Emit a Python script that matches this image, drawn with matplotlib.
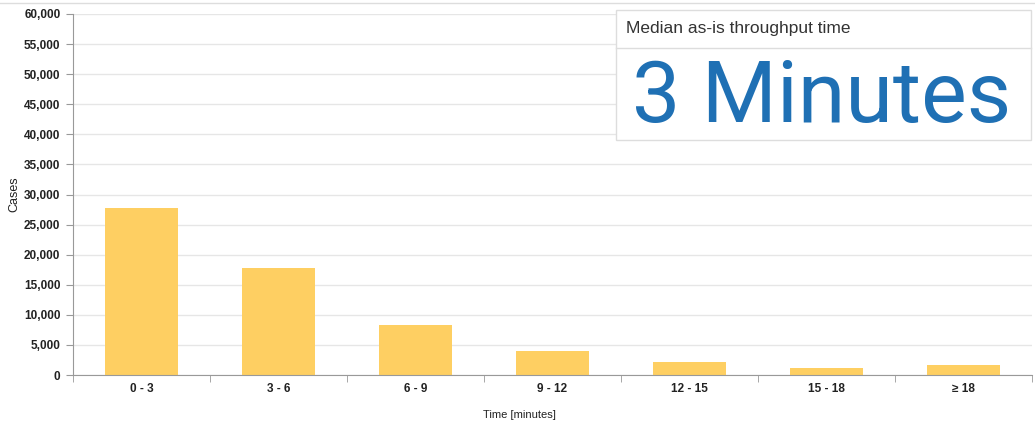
import numpy as np
import matplotlib.pyplot as plt
from matplotlib.patches import Rectangle
from matplotlib.lines import Line2D

categories = ["0 - 3", "3 - 6", "6 - 9", "9 - 12", "12 - 15", "15 - 18", "\u2265 18"]
cases = [27700, 17800, 8300, 4000, 2200, 1200, 1700]
yticks = list(range(0, 60001, 5000))
median_title = "Median as-is throughput time"
median_value = "3 Minutes"

plt.rcParams["font.family"] = ["Liberation Sans", "DejaVu Sans"]

W, H = 1035, 421
fig = plt.figure(figsize=(W / 100, H / 100), dpi=100)
ax = fig.add_axes([73 / W, 1 - 375 / H, (1032 - 73) / W, (375 - 14) / H])

x = np.arange(len(categories))
ax.bar(x, cases, width=0.53, color="#fecf62", zorder=2)

ax.set_xlim(-0.5, len(categories) - 0.5)
ax.set_ylim(0, 60000)
ax.set_yticks(yticks)
ax.set_yticklabels([f"{v:,}" for v in yticks], fontsize=8.5, fontweight="bold", color="#222222")
ax.set_xticks(x)
ax.set_xticklabels(categories, fontsize=8.5, fontweight="bold", color="#222222")
ax.set_xticks(np.arange(len(categories) + 1) - 0.5, minor=True)
ax.tick_params(axis="x", which="major", length=0, pad=6)
ax.tick_params(axis="x", which="minor", length=5, color="#999999")
ax.tick_params(axis="y", length=5, color="#999999", pad=4)

ax.grid(axis="y", color="#e6e6e6", linewidth=1, zorder=0)
for s in ["top", "right"]:
    ax.spines[s].set_visible(False)
for s in ["left", "bottom"]:
    ax.spines[s].set_color("#999999")

ax.set_ylabel("Cases", fontsize=9, color="#222222")
ax.yaxis.set_label_coords(-0.055, 0.5)
ax.set_xlabel("Time [minutes]", fontsize=8, color="#222222")
ax.xaxis.set_label_coords(0.466, -0.097)

# thin line at the very top
fig.add_artist(Line2D([0, 1], [1 - 3 / H, 1 - 3 / H], transform=fig.transFigure,
                      color="#dddddd", linewidth=1))

# overlay box with the median
bx0, bx1, by0, by1 = 616, 1031, 10, 140
fig.add_artist(Rectangle((bx0 / W, 1 - by1 / H), (bx1 - bx0) / W, (by1 - by0) / H,
                         transform=fig.transFigure, facecolor="white",
                         edgecolor="#dddddd", linewidth=1, zorder=5))
fig.add_artist(Line2D([bx0 / W, bx1 / W], [1 - 48 / H, 1 - 48 / H], transform=fig.transFigure,
                      color="#dddddd", linewidth=1, zorder=6))
fig.text(626 / W, 1 - 29 / H, median_title, fontsize=12.5, color="#333333",
         va="center", ha="left", zorder=7)
fig.text(822 / W, 1 - 122 / H, median_value, fontsize=62, color="#1f70b4",
         family="Roboto", va="baseline", ha="center", zorder=7)

fig.savefig("out.png", dpi=100)
